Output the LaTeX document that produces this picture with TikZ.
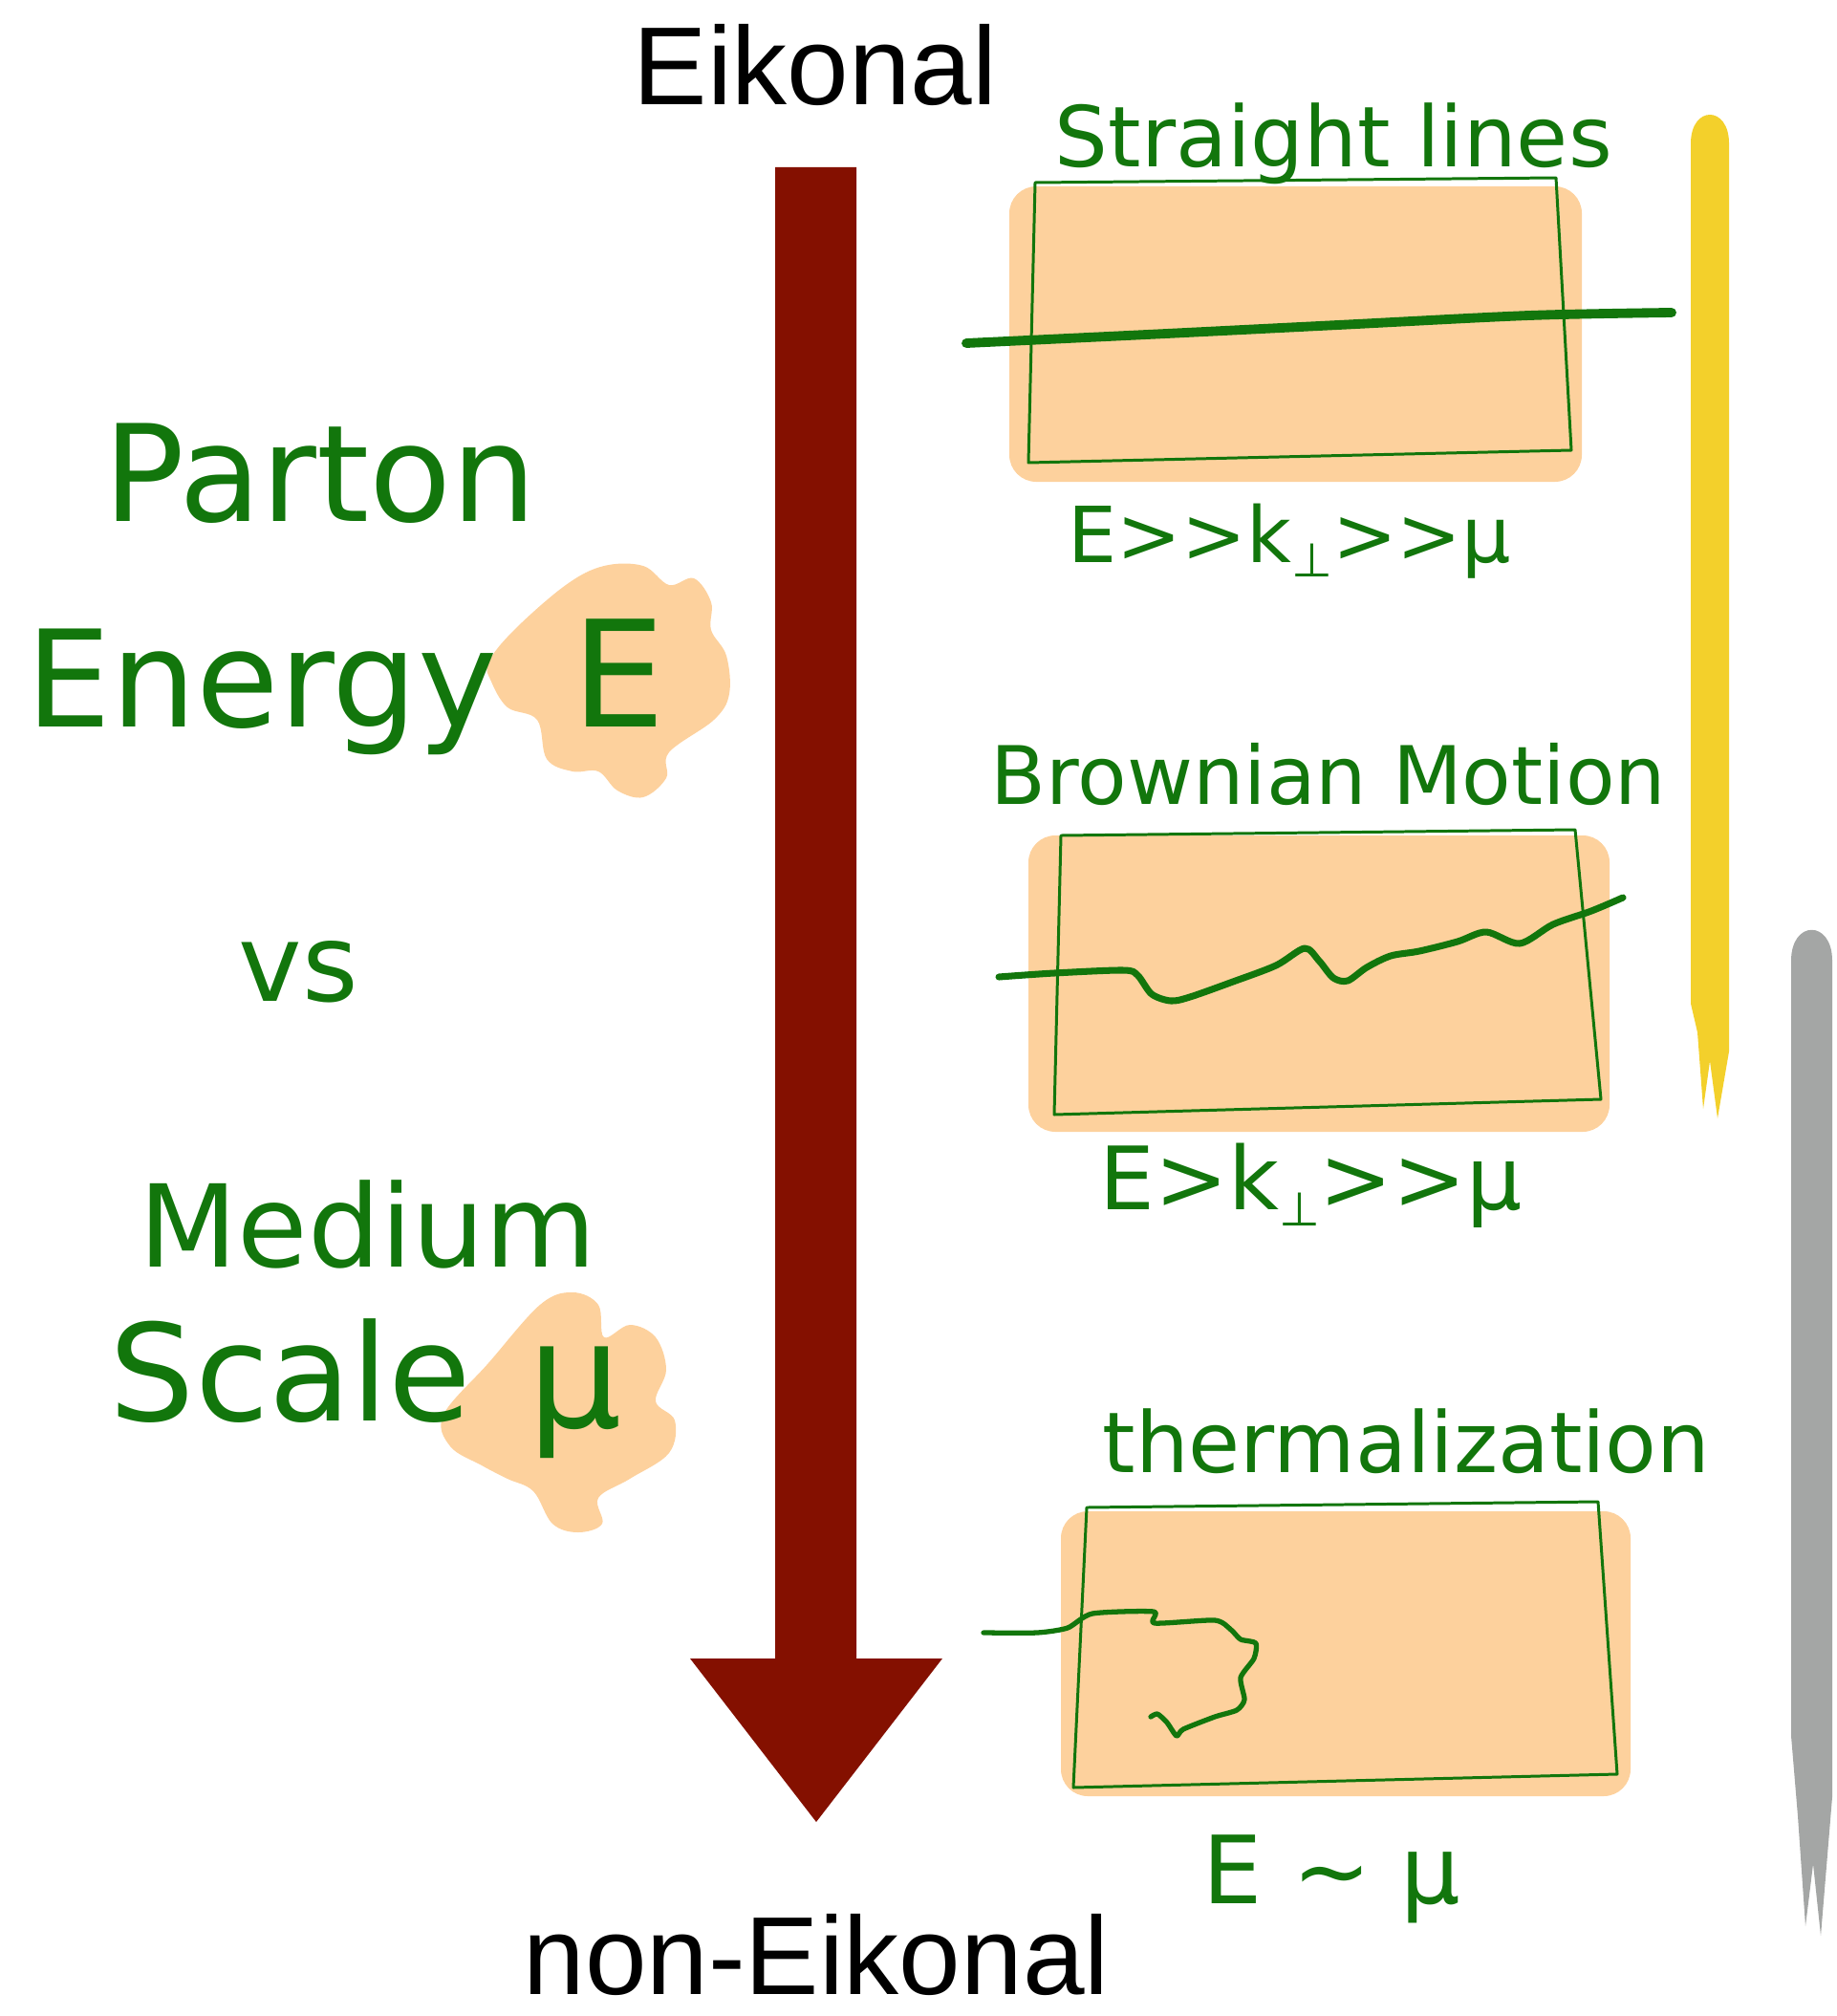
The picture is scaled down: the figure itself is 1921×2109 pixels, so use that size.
\documentclass[tikz,border=0pt]{standalone}
\usepackage{fontspec}
\setmainfont{Liberation Sans}
\newfontfamily\handfont{DejaVu Sans}
\usepackage{tikz}
\usepackage{xcolor}

\definecolor{inkgreen}{RGB}{18,118,12}
\definecolor{peach}{RGB}{253,209,157}
\definecolor{arrowred}{RGB}{132,16,0}
\definecolor{baryellow}{RGB}{243,208,43}
\definecolor{bargray}{RGB}{164,166,165}

\tikzset{
  hand/.style={text=inkgreen, inner sep=0pt, anchor=base west,
    font=\handfont\fontsize{#1}{#1}\selectfont},
  headline/.style={inner sep=0pt, anchor=base, font=\fontsize{33}{33}\selectfont},
  boxline/.style={draw=inkgreen, line width=0.85pt, line join=round},
  path/.style={draw=inkgreen, line cap=round, line join=round},
}

\newcommand{\perpsub}{\raisebox{-0.35ex}{\fontsize{14}{14}\selectfont ⊥}}

\begin{document}
\begin{tikzpicture}[x=0.01cm, y=-0.01cm]
    \useasboundingbox (0,0) rectangle (1921,2109);

    % Big arrow
    \fill[arrowred] (811,175) -- (896,175) -- (896,1735) -- (986,1735)
        -- (854,1906) -- (722,1735) -- (811,1735) -- cycle;
    \node[headline] (eikonal) at (853,110) {Eikonal};
    \node[headline] (noneikonal) at (854,2086) {non-Eikonal};

    % Highlight blobs
    \fill[peach] plot[smooth cycle, tension=0.6] coordinates {
        (511,693) (538,659) (592,612) (632,592) (673,592) (700,612) (726,605)
        (744,630) (744,659) (760,686) (763,726) (747,753) (700,787) (697,814)
        (673,834) (646,827) (626,807) (599,807) (572,794) (562,753) (531,740) (514,713)};
    \fill[peach] plot[smooth cycle, tension=0.6] coordinates {
        (464,1480) (511,1426) (565,1365) (599,1352) (626,1365) (632,1399) (659,1386)
        (686,1399) (697,1433) (686,1466) (706,1486) (700,1520) (659,1547) (626,1567)
        (630,1594) (605,1603) (578,1594) (558,1560) (531,1547) (504,1533) (471,1513)};

    % Left labels
    \node[hand=40] (parton) at (108,545) {Parton};
    \node[hand=40] (energy) at (27,760) {Energy};
    \node[hand=44] (energyE) at (598,760) {E};
    \node[hand=32] (vs) at (249,1047) {vs};
    \node[hand=34] (medium) at (145,1325) {Medium};
    \node[hand=40] (scale) at (114,1486) {Scale};
    \node[hand=44] (scaleMu) at (552,1493) {μ};

    % Panel backgrounds
    \fill[peach, rounded corners=8pt] (1056,195) rectangle (1655,504);
    \fill[peach, rounded corners=8pt] (1076,874) rectangle (1684,1184);
    \fill[peach, rounded corners=8pt] (1110,1581) rectangle (1706,1879);

    % Panel frames
    \draw[boxline] (1083,191) -- (1628,186) -- (1644,471) -- (1076,484) -- cycle;
    \draw[boxline] (1110,874) -- (1648,868) -- (1675,1150) -- (1103,1166) -- cycle;
    \draw[boxline] (1137,1577) -- (1672,1571) -- (1692,1856) -- (1123,1870) -- cycle;

    % Trajectories
    \draw[path, line width=2.8pt] plot[smooth] coordinates {
        (1011,359) (1200,350) (1400,340) (1600,330) (1749,327)};
    \draw[path, line width=2pt] plot[smooth, tension=0.5] coordinates {
        (1045,1022) (1103,1018) (1175,1015) (1190,1020) (1205,1040) (1225,1047)
        (1245,1043) (1290,1027) (1335,1010) (1365,992) (1380,1005) (1395,1023)
        (1410,1026) (1430,1012) (1455,1000) (1485,995) (1525,985) (1555,975)
        (1590,987) (1625,967) (1665,953) (1698,939)};
    \draw[path, line width=1.5pt] plot[smooth, tension=0.4] coordinates {
        (1029,1708) (1085,1708) (1117,1703) (1143,1688) (1207,1686) (1208,1698)
        (1271,1695) (1288,1705) (1298,1715) (1314,1719) (1312,1735) (1298,1755)
        (1302,1778) (1294,1789) (1271,1796) (1238,1809) (1231,1816) (1221,1802)
        (1211,1793) (1204,1796)};

    % Panel titles
    \node[hand=25] (titleStraight) at (1103,175) {Straight lines};
    \node[hand=24] (titleBrownian) at (1036,841) {Brownian Motion};
    \node[hand=25] (titleTherm) at (1153,1540) {thermalization};

    % Scale conditions
    \node[hand=23] (condStraight) at (1117,588) {E>>k\perpsub>>μ};
    \node[hand=26] (condBrownian) at (1150,1265) {E>k\perpsub>>μ};
    \node[hand=28] (condTherm) at (1258,1991) {E ∼ μ};

    % Side bars
    \fill[baryellow] (1769,1050) -- (1769,150) .. controls (1769,110) and (1809,110) .. (1809,150)
        -- (1809,1100) -- (1797,1170) -- (1789,1110) -- (1782,1160) -- (1776,1080) -- cycle;
    \fill[bargray] (1874,1816) -- (1874,1005) .. controls (1874,962) and (1917,962) .. (1917,1005)
        -- (1917,1880) -- (1905,2025) -- (1897,1950) -- (1889,2015) -- (1881,1900) -- cycle;
\end{tikzpicture}
\end{document}
